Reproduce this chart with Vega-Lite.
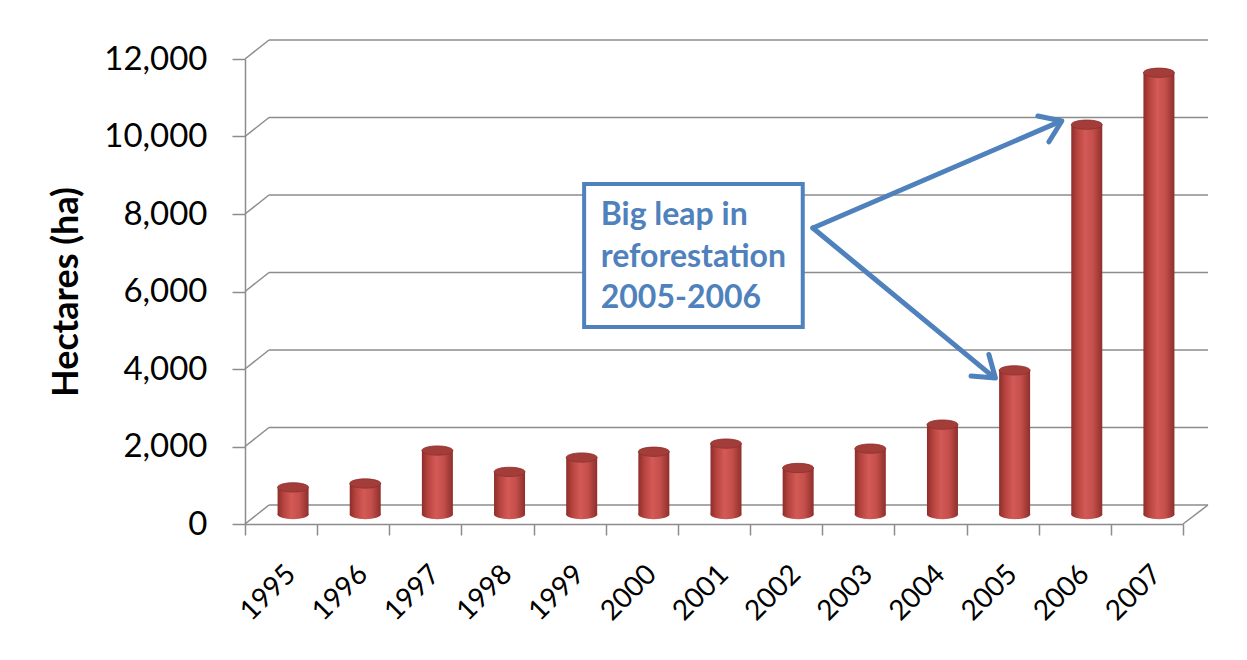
{
  "$schema": "https://vega.github.io/schema/vega-lite/v6.json",
  "width": 938,
  "height": 465,
  "autosize": {"type": "none"},
  "padding": {"left": 245, "top": 59, "right": 64, "bottom": 136},
  "background": "white",
  "config": {
    "view": {"stroke": null},
    "font": "Lato"
  },
  "datasets": {
    "refor": [
      {"year": "1995", "hectares": 700},
      {"year": "1996", "hectares": 800},
      {"year": "1997", "hectares": 1650},
      {"year": "1998", "hectares": 1100},
      {"year": "1999", "hectares": 1470},
      {"year": "2000", "hectares": 1620},
      {"year": "2001", "hectares": 1830},
      {"year": "2002", "hectares": 1200},
      {"year": "2003", "hectares": 1700},
      {"year": "2004", "hectares": 2320},
      {"year": "2005", "hectares": 3720},
      {"year": "2006", "hectares": 10060},
      {"year": "2007", "hectares": 11400}
    ],
    "ticks": [
      {"v": 0}, {"v": 2000}, {"v": 4000}, {"v": 6000}, {"v": 8000}, {"v": 10000}, {"v": 12000}
    ]
  },
  "layer": [
    {
      "data": {"name": "ticks"},
      "layer": [
        {
          "mark": {"type": "rule", "color": "#8C8C8C", "strokeWidth": 1.5, "xOffset": 24, "x2Offset": 25, "yOffset": -19, "y2Offset": -19},
          "encoding": {
            "x": {"datum": 1994.5, "type": "quantitative", "scale": {"domain": [1994.5, 2007.5], "nice": false, "zero": false}, "axis": null},
            "x2": {"datum": 2007.5},
            "y": {"field": "v", "type": "quantitative", "scale": {"domain": [0, 12000]}, "axis": null}
          }
        },
        {
          "mark": {"type": "rule", "color": "#8C8C8C", "strokeWidth": 1.5, "x2Offset": 24, "y2Offset": -19},
          "encoding": {
            "x": {"datum": 1994.5, "type": "quantitative", "scale": {"domain": [1994.5, 2007.5], "nice": false, "zero": false}, "axis": null},
            "x2": {"datum": 1994.5},
            "y": {"field": "v", "type": "quantitative", "scale": {"domain": [0, 12000]}, "axis": null},
            "y2": {"field": "v"}
          }
        },
        {
          "transform": [{"filter": "datum.v == 0"}],
          "mark": {"type": "rule", "color": "#8C8C8C", "strokeWidth": 1.5, "x2Offset": 25, "y2Offset": -19},
          "encoding": {
            "x": {"datum": 2007.5, "type": "quantitative", "scale": {"domain": [1994.5, 2007.5], "nice": false, "zero": false}, "axis": null},
            "x2": {"datum": 2007.5},
            "y": {"field": "v", "type": "quantitative", "scale": {"domain": [0, 12000]}, "axis": null},
            "y2": {"field": "v"}
          }
        }
      ]
    },
    {
      "data": {"name": "refor"},
      "encoding": {
        "x": {
          "field": "year", "type": "ordinal", "sort": null,
          "scale": {"paddingInner": 0, "paddingOuter": 0},
          "axis": {
            "title": null, "labelAngle": -45, "labelFontSize": 28, "labelColor": "#000000",
            "labelPadding": 25, "tickSize": 11, "tickBand": "extent", "tickColor": "#8C8C8C", "tickWidth": 1.5,
            "domainColor": "#8C8C8C", "domainWidth": 1.5, "grid": false, "labelFont": "Lato"
          }
        },
        "y": {
          "field": "hectares", "type": "quantitative",
          "scale": {"domain": [0, 12000]},
          "axis": {
            "title": "Hectares (ha)", "titleFontSize": 36, "titleFontWeight": "bold", "titleColor": "#000000", "titleFont": "Lato",
            "titlePadding": 18,
            "values": [0, 2000, 4000, 6000, 8000, 10000, 12000], "format": ",.0f",
            "labelFontSize": 33, "labelColor": "#000000", "labelPadding": 25, "labelFont": "Lato",
            "tickSize": 13, "tickColor": "#8C8C8C", "tickWidth": 1.5,
            "domainColor": "#8C8C8C", "domainWidth": 1.5, "grid": false
          }
        }
      },
      "layer": [
        {
          "mark": {
            "type": "point", "filled": true, "opacity": 1, "strokeWidth": 0, "size": 961, "xOffset": 12, "yOffset": -9.5,
            "shape": "M-1,0C-1,-0.166,-0.552,-0.3,0,-0.3C0.552,-0.3,1,-0.166,1,0C1,0.166,0.552,0.3,0,0.3C-0.552,0.3,-1,0.166,-1,0Z",
            "fill": {"gradient": "linear", "x1": 0, "y1": 0, "x2": 1, "y2": 0, "stops": [
              {"offset": 0, "color": "#8C2E2B"}, {"offset": 0.2, "color": "#B8443F"}, {"offset": 0.45, "color": "#D35A56"},
              {"offset": 0.7, "color": "#C54F4B"}, {"offset": 1, "color": "#8E2F2C"}]}
          },
          "encoding": {"y": {"datum": 0, "type": "quantitative"}}
        },
        {
          "mark": {
            "type": "bar", "width": 31, "xOffset": 12, "yOffset": -9.5, "y2Offset": -9.5,
            "fill": {"gradient": "linear", "x1": 0, "y1": 0, "x2": 1, "y2": 0, "stops": [
              {"offset": 0, "color": "#8C2E2B"}, {"offset": 0.2, "color": "#B8443F"}, {"offset": 0.45, "color": "#D35A56"},
              {"offset": 0.7, "color": "#C54F4B"}, {"offset": 1, "color": "#8E2F2C"}]}
          }
        },
        {
          "mark": {
            "type": "point", "filled": true, "opacity": 1, "size": 961, "xOffset": 12, "yOffset": -9.5,
            "shape": "M-1,0C-1,-0.166,-0.552,-0.3,0,-0.3C0.552,-0.3,1,-0.166,1,0C1,0.166,0.552,0.3,0,0.3C-0.552,0.3,-1,0.166,-1,0Z",
            "fill": "#A33D3A", "stroke": "#8E2F2C", "strokeWidth": 0.8
          }
        }
      ]
    },
    {
      "data": {"values": [{}]},
      "layer": [
        {
          "mark": {"type": "rect", "fill": "white", "stroke": "#4F81BD", "strokeWidth": 4},
          "encoding": {
            "x": {"datum": 1999.2, "type": "quantitative", "scale": {"domain": [1994.5, 2007.5], "nice": false, "zero": false}, "axis": null},
            "x2": {"datum": 2002.23},
            "y": {"datum": 8774, "type": "quantitative", "scale": {"domain": [0, 12000]}, "axis": null},
            "y2": {"datum": 5084}
          }
        },
        {
          "mark": {"type": "text", "text": "Big leap in\nreforestation\n2005-2006", "lineBreak": "\n", "align": "left", "baseline": "alphabetic",
            "font": "Lato", "fontWeight": "bold", "fontSize": 32, "lineHeight": 41.5, "color": "#4F81BD"},
          "encoding": {
            "x": {"datum": 1999.43, "type": "quantitative", "scale": {"domain": [1994.5, 2007.5], "nice": false, "zero": false}, "axis": null},
            "y": {"datum": 7716, "type": "quantitative", "scale": {"domain": [0, 12000]}, "axis": null}
          }
        },
        {
          "mark": {"type": "rule", "color": "#4F81BD", "strokeWidth": 5, "strokeCap": "round"},
          "encoding": {
            "x": {"datum": 2002.37, "type": "quantitative", "scale": {"domain": [1994.5, 2007.5], "nice": false, "zero": false}, "axis": null},
            "x2": {"datum": 2005.8},
            "y": {"datum": 7639, "type": "quantitative", "scale": {"domain": [0, 12000]}, "axis": null},
            "y2": {"datum": 10390}
          }
        },
        {
          "mark": {"type": "rule", "color": "#4F81BD", "strokeWidth": 5, "strokeCap": "round"},
          "encoding": {
            "x": {"datum": 2002.37, "type": "quantitative", "scale": {"domain": [1994.5, 2007.5], "nice": false, "zero": false}, "axis": null},
            "x2": {"datum": 2004.88},
            "y": {"datum": 7639, "type": "quantitative", "scale": {"domain": [0, 12000]}, "axis": null},
            "y2": {"datum": 3785}
          }
        },
        {
          "mark": {"type": "point", "filled": false, "opacity": 1, "stroke": "#4F81BD", "strokeWidth": 5, "strokeCap": "round", "strokeJoin": "round",
            "size": 1600, "angle": -23.3, "shape": "M-1,-0.7L0,0L-1,0.7"},
          "encoding": {
            "x": {"datum": 2005.82, "type": "quantitative", "scale": {"domain": [1994.5, 2007.5], "nice": false, "zero": false}, "axis": null},
            "y": {"datum": 10400, "type": "quantitative", "scale": {"domain": [0, 12000]}, "axis": null}
          }
        },
        {
          "mark": {"type": "point", "filled": false, "opacity": 1, "stroke": "#4F81BD", "strokeWidth": 5, "strokeCap": "round", "strokeJoin": "round",
            "size": 1600, "angle": 39.5, "shape": "M-1,-0.7L0,0L-1,0.7"},
          "encoding": {
            "x": {"datum": 2004.9, "type": "quantitative", "scale": {"domain": [1994.5, 2007.5], "nice": false, "zero": false}, "axis": null},
            "y": {"datum": 3768, "type": "quantitative", "scale": {"domain": [0, 12000]}, "axis": null}
          }
        }
      ]
    }
  ],
  "resolve": {"scale": {"x": "independent"}, "axis": {"x": "independent", "y": "independent"}}
}
